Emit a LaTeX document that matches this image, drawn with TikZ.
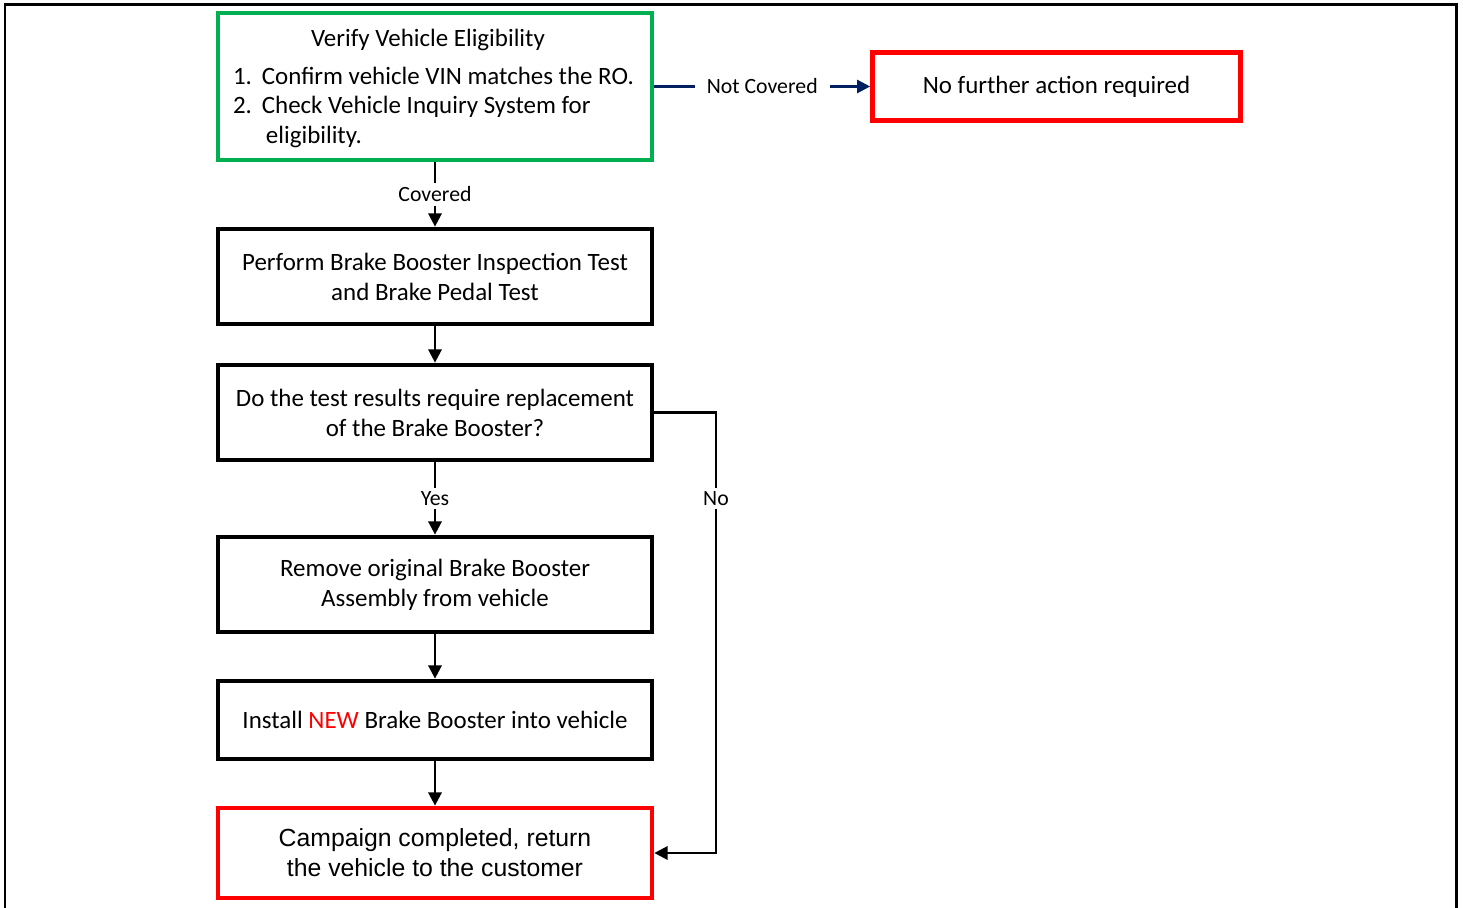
\documentclass[tikz,border=0pt]{standalone}
\usepackage{fontspec}
\setmainfont{Carlito}
\newfontfamily\arialfont{Liberation Sans}
\usetikzlibrary{arrows.meta}
\definecolor{boxgreen}{RGB}{0,176,80}
\definecolor{boxred}{RGB}{255,0,0}
\definecolor{linknavy}{RGB}{0,32,96}
\tikzset{
	stepbox/.style={draw=black, line width=2.7pt, fill=white, minimum width=8.68cm, minimum height=1.9cm, align=center, inner sep=0pt, font=\fontsize{14.2}{17}\selectfont},
	flow/.style={line width=1.4pt, -{Triangle[length=7.5pt,width=7.5pt]}},
	lbl/.style={fill=white, text=black, inner sep=2pt, font=\fontsize{12.4}{14}\selectfont}
}

\begin{document}
\begin{tikzpicture}[x=0.02cm, y=-0.02cm]
			%%%%% START %%%%%
			
			\useasboundingbox (0, 0) rectangle (1463, 908);
			\draw[line width=1.7pt] (5, 908) -- (5, 5) -- (1456, 5) -- (1456, 908);
			
			\node[stepbox, draw=boxgreen, minimum height=2.94cm, text width=8.24cm, inner xsep=0.22cm, align=left] (verify) at (435, 86.5) {%
				\spaceskip=0pt\xspaceskip=0pt
				{\centering\hspace*{-8pt}\rule{0pt}{12.2pt}Verify Vehicle Eligibility\par}\vspace{4.5pt}
				\raggedright\hyphenpenalty=10000\leftskip=2.3pt
				\noindent\hangindent=16.4pt\makebox[16.4pt][l]{1.}Confirm vehicle VIN matches the RO.\par
				\noindent\hangindent=16.4pt\makebox[16.4pt][l]{2.}Check Vehicle Inquiry System for \mbox{\hspace{2.3pt}eligibility.}\par};
			\node[stepbox, draw=boxred, minimum width=7.36cm, minimum height=1.36cm] (nofurther) at (1056.5, 86.5) {No further action required};
			
			\node[stepbox] (inspect) at (435, 276.5) {Perform Brake Booster Inspection Test\\and Brake Pedal Test};
			\node[stepbox] (decide) at (435, 412.5) {Do the test results require replacement\\of the Brake Booster?};
			\node[stepbox] (remove) at (435, 584.5) {Remove original Brake Booster\\Assembly from vehicle};
			\node[stepbox, minimum height=1.56cm] (install) at (435, 720) {Install \textcolor{boxred}{NEW} Brake Booster into vehicle};
			\node[stepbox, draw=boxred, minimum height=1.8cm, font=\arialfont\fontsize{14.1}{17}\selectfont] (done) at (435, 853) {Campaign completed, return\\the vehicle to the customer};
			
			\coordinate (noturn) at (716, 412.5);
			
			\draw[flow, color=linknavy] (verify.east) -- node[lbl, inner xsep=0.24cm] {Not Covered} (nofurther.west);
			\draw[flow] (verify.south) -- node[lbl] {Covered} (inspect.north);
			\draw[flow] (inspect.south) -- (decide.north);
			\draw[flow] (decide.south) -- node[lbl] {Yes} (remove.north);
			\draw[flow] (remove.south) -- (install.north);
			\draw[flow] (install.south) -- (done.north);
			\draw[flow] (decide.east) -- (noturn) -- node[lbl, pos=0.195] {No} (noturn |- done.east) -- (done.east);
			
			%%%%% END %%%%%
\end{tikzpicture}
\end{document}
